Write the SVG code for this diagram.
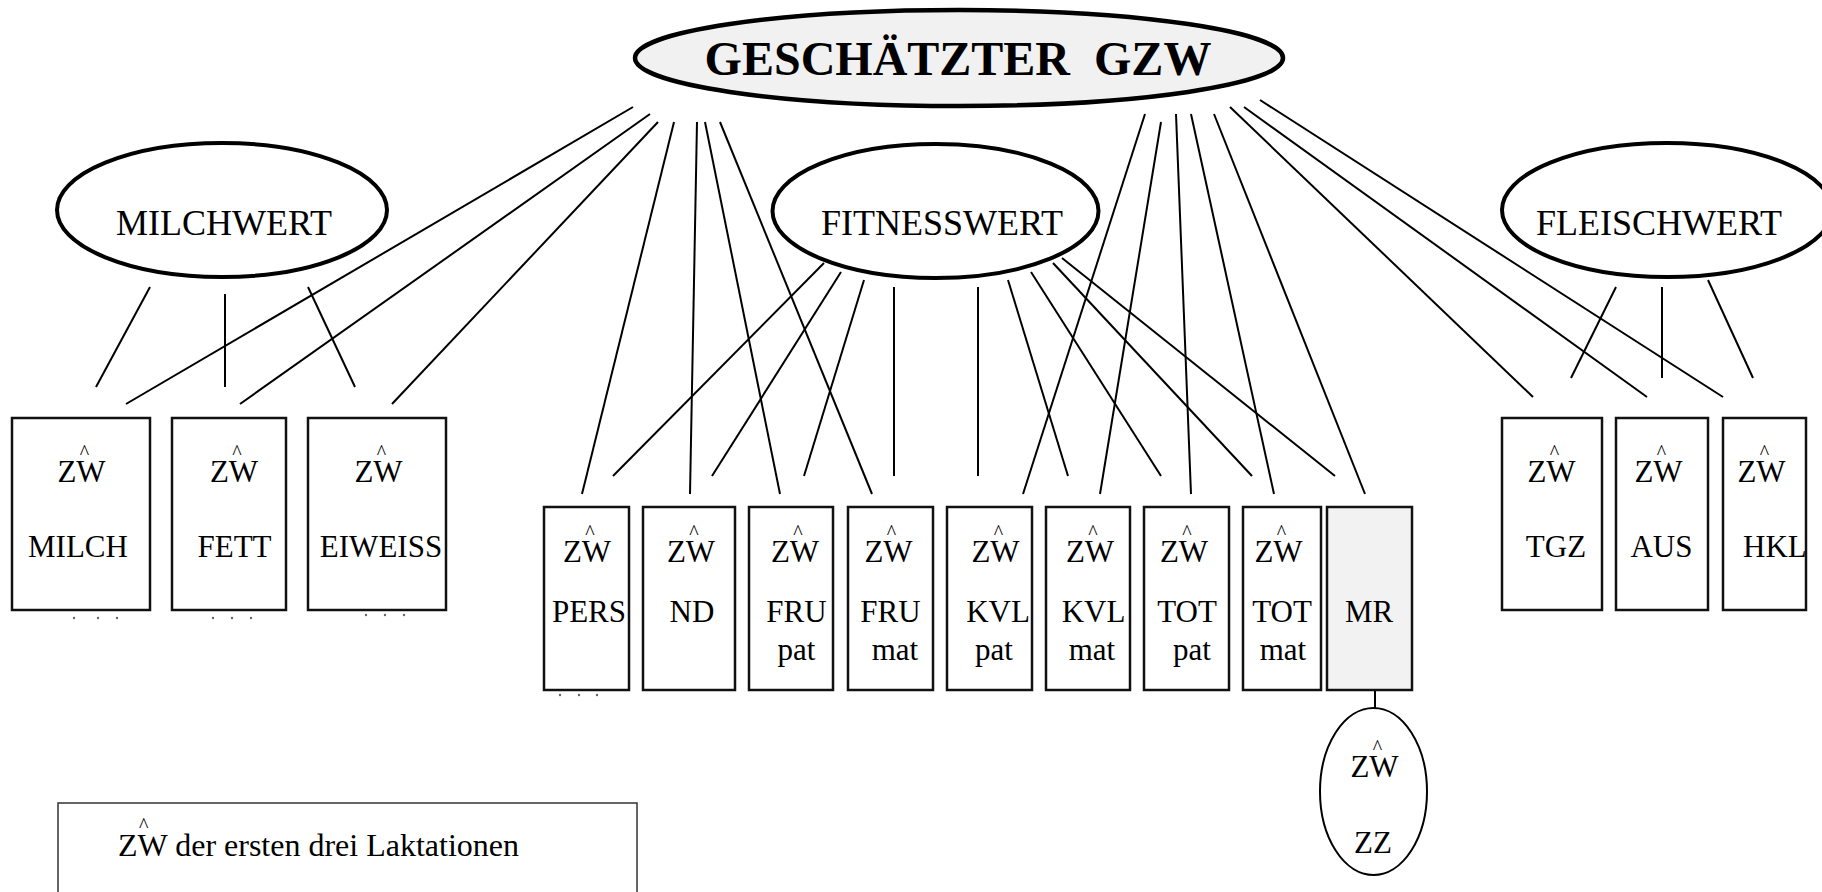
<svg xmlns="http://www.w3.org/2000/svg" width="1822" height="892" viewBox="0 0 1822 892">
<style>
text{font-family:"Liberation Serif","Times New Roman",serif;fill:#000}
.t{font-size:31px;text-anchor:middle}
.hat{font-size:20px}
.big{font-size:36px;text-anchor:middle}
.ell{fill:#fff;stroke:#000;stroke-width:4}
.box{fill:#fff;stroke:#111;stroke-width:2.5}
.grey{fill:#f2f2f2}
.con line{stroke:#000;stroke-width:2}
.dot{fill:#666}
</style>
<rect width="1822" height="892" fill="#fff"/>

<g id="connectors" class="con">
<line x1="633" y1="107" x2="126" y2="404"/>
<line x1="650" y1="114" x2="240" y2="404"/>
<line x1="658" y1="122" x2="392" y2="404"/>
<line x1="674" y1="122" x2="582" y2="494"/>
<line x1="697" y1="122" x2="690" y2="494"/>
<line x1="705" y1="122" x2="780" y2="494"/>
<line x1="720" y1="122" x2="872" y2="494"/>
<line x1="1145" y1="114" x2="1023" y2="494"/>
<line x1="1161" y1="122" x2="1100" y2="494"/>
<line x1="1176" y1="114" x2="1191" y2="494"/>
<line x1="1191" y1="114" x2="1274" y2="494"/>
<line x1="1214" y1="114" x2="1365" y2="494"/>
<line x1="1230" y1="107" x2="1533" y2="397"/>
<line x1="1244" y1="107" x2="1647" y2="397"/>
<line x1="1260" y1="100" x2="1723" y2="397"/>
<line x1="824" y1="263" x2="613" y2="476"/>
<line x1="841" y1="272" x2="712" y2="476"/>
<line x1="864" y1="280" x2="804" y2="476"/>
<line x1="894" y1="287" x2="894" y2="476"/>
<line x1="978" y1="287" x2="978" y2="476"/>
<line x1="1008" y1="280" x2="1068" y2="476"/>
<line x1="1031" y1="272" x2="1161" y2="476"/>
<line x1="1053" y1="263" x2="1252" y2="476"/>
<line x1="1062" y1="258" x2="1335" y2="476"/>
<line x1="150" y1="287" x2="96" y2="387"/>
<line x1="225" y1="294" x2="225" y2="387"/>
<line x1="308" y1="287" x2="355" y2="387"/>
<line x1="1616" y1="287" x2="1571" y2="378"/>
<line x1="1662" y1="287" x2="1662" y2="378"/>
<line x1="1708" y1="280" x2="1753" y2="378"/>
<line x1="1375" y1="690" x2="1375" y2="708"/>
</g>

<g id="gzw">
<ellipse cx="959" cy="58" rx="324" ry="48" fill="#f1f1f1" stroke="#000" stroke-width="4.5"/>
<text x="958" y="75" xml:space="preserve" style="font-size:48px;font-weight:bold;text-anchor:middle">GESCHÄTZTER  GZW</text>
</g>

<g id="milchwert">
<ellipse class="ell" cx="222" cy="210" rx="165" ry="67"/>
<text class="big" x="224" y="235">MILCHWERT</text>
</g>
<g id="fitnesswert">
<ellipse class="ell" cx="935.5" cy="211" rx="163" ry="67"/>
<text class="big" x="942" y="235">FITNESSWERT</text>
</g>
<g id="fleischwert">
<ellipse class="ell" cx="1667" cy="210" rx="165" ry="67"/>
<text class="big" x="1659" y="235">FLEISCHWERT</text>
</g>

<g id="milch">
<rect class="box" x="12" y="418" width="138" height="192"/>
<text class="t"><tspan class="hat" x="84.5" y="459">^</tspan><tspan x="81.5" y="482">ZW</tspan></text>
<text class="t" x="78" y="557">MILCH</text>
<circle class="dot" cx="74" cy="618" r="1.2"/><circle class="dot" cx="98" cy="618" r="1.2"/><circle class="dot" cx="117" cy="618" r="1.2"/>
</g>
<g id="fett">
<rect class="box" x="172" y="418" width="114" height="192"/>
<text class="t"><tspan class="hat" x="237" y="459">^</tspan><tspan x="234" y="482">ZW</tspan></text>
<text class="t" x="234.5" y="557">FETT</text>
<circle class="dot" cx="213" cy="618" r="1.2"/><circle class="dot" cx="232" cy="618" r="1.2"/><circle class="dot" cx="251" cy="618" r="1.2"/>
</g>
<g id="eiweiss">
<rect class="box" x="308" y="418" width="138" height="192"/>
<text class="t"><tspan class="hat" x="381.5" y="459">^</tspan><tspan x="378.5" y="482">ZW</tspan></text>
<text class="t" x="381" y="557">EIWEISS</text>
<circle class="dot" cx="366" cy="615" r="1.2"/><circle class="dot" cx="385" cy="615" r="1.2"/><circle class="dot" cx="404" cy="615" r="1.2"/>
</g>

<g id="pers">
<rect class="box" x="544" y="507" width="85" height="183"/>
<text class="t"><tspan class="hat" x="590" y="539">^</tspan><tspan x="587" y="562">ZW</tspan></text>
<text class="t" x="589" y="622">PERS</text>
<circle class="dot" cx="560" cy="695" r="1.2"/><circle class="dot" cx="579" cy="695" r="1.2"/><circle class="dot" cx="597" cy="695" r="1.2"/>
</g>
<g id="nd">
<rect class="box" x="643" y="507" width="92" height="183"/>
<text class="t"><tspan class="hat" x="694" y="539">^</tspan><tspan x="691" y="562">ZW</tspan></text>
<text class="t" x="692" y="622">ND</text>
</g>
<g id="frupat">
<rect class="box" x="749" y="507" width="84" height="183"/>
<text class="t"><tspan class="hat" x="798" y="539">^</tspan><tspan x="795" y="562">ZW</tspan></text>
<text class="t"><tspan x="796.5" y="622">FRU</tspan><tspan x="796.5" y="660">pat</tspan></text>
</g>
<g id="frumat">
<rect class="box" x="848" y="507" width="85" height="183"/>
<text class="t"><tspan class="hat" x="891.5" y="539">^</tspan><tspan x="888.5" y="562">ZW</tspan></text>
<text class="t"><tspan x="890.5" y="622">FRU</tspan><tspan x="895" y="660">mat</tspan></text>
</g>
<g id="kvlpat">
<rect class="box" x="947" y="507" width="85" height="183"/>
<text class="t"><tspan class="hat" x="998.5" y="539">^</tspan><tspan x="995.5" y="562">ZW</tspan></text>
<text class="t"><tspan x="998" y="622">KVL</tspan><tspan x="994" y="660">pat</tspan></text>
</g>
<g id="kvlmat">
<rect class="box" x="1046" y="507" width="84" height="183"/>
<text class="t"><tspan class="hat" x="1093" y="539">^</tspan><tspan x="1090" y="562">ZW</tspan></text>
<text class="t"><tspan x="1093.5" y="622">KVL</tspan><tspan x="1092" y="660">mat</tspan></text>
</g>
<g id="totpat">
<rect class="box" x="1144" y="507" width="85" height="183"/>
<text class="t"><tspan class="hat" x="1187" y="539">^</tspan><tspan x="1184" y="562">ZW</tspan></text>
<text class="t"><tspan x="1187" y="622">TOT</tspan><tspan x="1192" y="660">pat</tspan></text>
</g>
<g id="totmat">
<rect class="box" x="1243" y="507" width="78" height="183"/>
<text class="t"><tspan class="hat" x="1281.5" y="539">^</tspan><tspan x="1278.5" y="562">ZW</tspan></text>
<text class="t"><tspan x="1282" y="622">TOT</tspan><tspan x="1283" y="660">mat</tspan></text>
</g>
<g id="mr">
<rect class="box grey" x="1327" y="507" width="85" height="183"/>
<text class="t" x="1369" y="622">MR</text>
</g>
<g id="zz">
<ellipse cx="1373.5" cy="791.5" rx="53.5" ry="83.5" fill="#fff" stroke="#000" stroke-width="2"/>
<text class="t"><tspan class="hat" x="1377.5" y="754">^</tspan><tspan x="1374.5" y="777">ZW</tspan></text>
<text class="t" x="1373" y="853">ZZ</text>
</g>

<g id="tgz">
<rect class="box" x="1502" y="418" width="100" height="192"/>
<text class="t"><tspan class="hat" x="1554.5" y="459">^</tspan><tspan x="1551.5" y="482">ZW</tspan></text>
<text class="t" x="1556" y="557">TGZ</text>
</g>
<g id="aus">
<rect class="box" x="1616" y="418" width="92" height="192"/>
<text class="t"><tspan class="hat" x="1661.5" y="459">^</tspan><tspan x="1658.5" y="482">ZW</tspan></text>
<text class="t" x="1661.5" y="557">AUS</text>
</g>
<g id="hkl">
<rect class="box" x="1723" y="418" width="83" height="192"/>
<text class="t"><tspan class="hat" x="1764.5" y="459">^</tspan><tspan x="1761.5" y="482">ZW</tspan></text>
<text class="t" x="1743" y="557" style="text-anchor:start">HKL</text>
</g>

<g id="legend">
<rect x="58" y="803" width="579" height="120" fill="#fff" stroke="#333" stroke-width="1.5"/>
<text style="font-size:32px"><tspan class="hat" x="139" y="832">^</tspan><tspan x="118" y="856">ZW der ersten drei Laktationen</tspan></text>
</g>
</svg>
